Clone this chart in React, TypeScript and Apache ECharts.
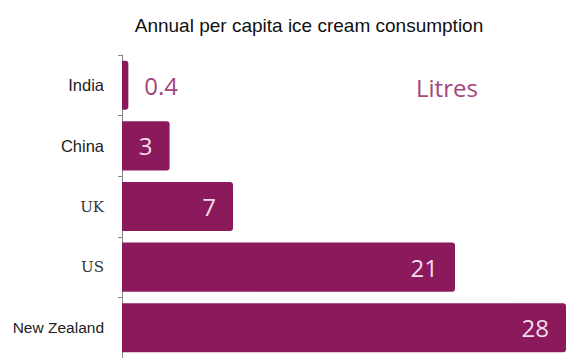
import React, { useEffect, useRef } from "react";
import * as echarts from "echarts";

const categories = ["India", "China", "UK", "US", "New Zealand"];
const values = [0.4, 3, 7, 21, 28];
const titleText = "Annual per capita ice cream consumption";
const unitText = "Litres";

export default function App() {
  const ref = useRef<HTMLDivElement>(null);
  useEffect(() => {
    if (!ref.current) return;
    const chart = echarts.init(ref.current, undefined, { renderer: "svg" });
    const barColor = "#8B1A5D";
    const outColor = "#A2457D";
    chart.setOption({
      animation: false,
      title: {
        text: titleText,
        left: 304,
        textAlign: "center",
        top: 11,
        textStyle: {
          fontFamily: "Liberation Sans",
          fontSize: 19,
          fontWeight: "normal",
          color: "#111",
        },
      },
      graphic: [
        {
          type: "text",
          x: 416,
          y: 87,
          style: {
            text: unitText,
            fontFamily: "Open Sans",
            fontSize: 24,
            fill: outColor,
            verticalAlign: "middle",
            align: "left",
          },
        },
      ],
      grid: { left: 122, right: -4, top: 55, bottom: -7, containLabel: false },
      xAxis: {
        type: "value",
        min: 0,
        max: 28,
        show: false,
      },
      yAxis: {
        type: "category",
        inverse: true,
        data: categories,
        axisLine: { show: true, lineStyle: { color: "#8a8a8a", width: 1 } },
        axisTick: { show: true, length: 4, lineStyle: { color: "#8a8a8a" } },
        axisLabel: {
          margin: 18,
          fontFamily: "Liberation Sans",
          fontSize: 16.5,
          color: "#222",
          formatter: (v: string) =>
            v === "UK" || v === "US"
              ? `{m|${v}}`
              : v === "New Zealand"
              ? `{n|${v}}`
              : v,
          rich: {
            m: {
              fontFamily: "DejaVu Serif",
              fontSize: 15,
              color: "#333",
            },
            n: { fontFamily: "Liberation Sans", fontSize: 15.5, color: "#222" },
          },
        },
      },
      series: [
        {
          type: "bar",
          data: values.map((v, i) =>
            i === 0
              ? {
                  value: v,
                  label: {
                    position: "right",
                    distance: 16,
                    color: outColor,
                  },
                }
              : v
          ),
          barCategoryGap: "19%",
          itemStyle: { color: barColor, borderRadius: [0, 3, 3, 0] },
          label: {
            show: true,
            position: "insideRight",
            distance: 17,
            fontFamily: "Open Sans",
            fontSize: 24,
            color: "#F3DDE9",
          },
        },
      ],
    });
    return () => chart.dispose();
  }, []);
  return (
    <div
      ref={ref}
      style={{ position: "absolute", left: 0, top: 0, width: 566, height: 358 }}
    />
  );
}
